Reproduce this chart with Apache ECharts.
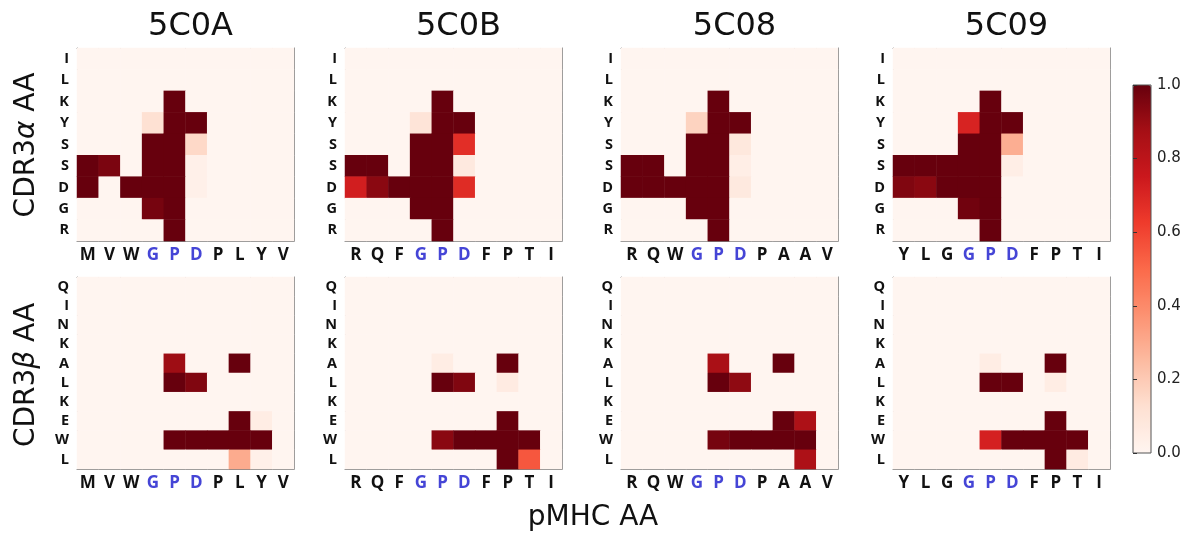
<!DOCTYPE html>
<html><head><meta charset="utf-8">
<script src="https://cdn.jsdelivr.net/npm/echarts@6/dist/echarts.min.js"></script>
<style>html,body{margin:0;padding:0;background:#fff}#c{width:1188px;height:535px}</style>
</head><body><div id="c"></div>
<script>
// ---------------- data ----------------
const pdbIds = ['5C0A', '5C0B', '5C08', '5C09'];
const alphaRows = ['I', 'L', 'K', 'Y', 'S', 'S', 'D', 'G', 'R'];
const betaRows = ['Q', 'I', 'N', 'K', 'A', 'L', 'K', 'E', 'W', 'L'];
const pep5C0A = ['M', 'V', 'W', 'G', 'P', 'D', 'P', 'L', 'Y', 'V'];
const pep5C0B = ['R', 'Q', 'F', 'G', 'P', 'D', 'F', 'P', 'T', 'I'];
const pep5C08 = ['R', 'Q', 'W', 'G', 'P', 'D', 'P', 'A', 'A', 'V'];
const pep5C09 = ['Y', 'L', 'G', 'G', 'P', 'D', 'F', 'P', 'T', 'I'];
const colorbarTicks = [0, 0.2, 0.4, 0.6, 0.8, 1.0];

// CDR3 alpha (rows = alphaRows, cols = peptide)
const alpha5C0A = [
  [0,0,0,0,0,0,0,0,0,0],
  [0,0,0,0,0,0,0,0,0,0],
  [0,0,0,0,1,0,0,0,0,0],
  [0,0,0,0.12,1,1,0,0,0,0],
  [0,0,0,1,1,0.15,0,0,0,0],
  [1,0.96,0,1,1,0.03,0,0,0,0],
  [1,0,1,1,1,0.03,0,0,0,0],
  [0,0,0,0.97,1,0,0,0,0,0],
  [0,0,0,0,1,0,0,0,0,0]
];
const alpha5C0B = [
  [0,0,0,0,0,0,0,0,0,0],
  [0,0,0,0,0,0,0,0,0,0],
  [0,0,0,0,1,0,0,0,0,0],
  [0,0,0,0.1,1,1,0,0,0,0],
  [0,0,0,1,1,0.67,0,0,0,0],
  [1,1,0,1,1,0.07,0,0,0,0],
  [0.73,0.93,1,1,1,0.68,0,0,0,0],
  [0,0,0,1,1,0,0,0,0,0],
  [0,0,0,0,1,0,0,0,0,0]
];
const alpha5C08 = [
  [0,0,0,0,0,0,0,0,0,0],
  [0,0,0,0,0,0,0,0,0,0],
  [0,0,0,0,1,0,0,0,0,0],
  [0,0,0,0.17,1,1,0,0,0,0],
  [0,0,0,1,1,0.08,0,0,0,0],
  [1,1,0,1,1,0.04,0,0,0,0],
  [1,1,1,1,1,0.07,0,0,0,0],
  [0,0,0,1,1,0,0,0,0,0],
  [0,0,0,0,1,0,0,0,0,0]
];
const alpha5C09 = [
  [0,0,0,0,0,0,0,0,0,0],
  [0,0,0,0,0,0,0,0,0,0],
  [0,0,0,0,1,0,0,0,0,0],
  [0,0,0,0.71,1,1,0,0,0,0],
  [0,0,0,1,1,0.29,0,0,0,0],
  [1,1,1,1,1,0.04,0,0,0,0],
  [0.95,0.93,1,1,1,0,0,0,0,0],
  [0,0,0,0.98,1,0,0,0,0,0],
  [0,0,0,0,1,0,0,0,0,0]
];
// CDR3 beta (rows = betaRows)
const beta5C0A = [
  [0,0,0,0,0,0,0,0,0,0],
  [0,0,0,0,0,0,0,0,0,0],
  [0,0,0,0,0,0,0,0,0,0],
  [0,0,0,0,0,0,0,0,0,0],
  [0,0,0,0,0.89,0,0,1,0,0],
  [0,0,0,0,1,0.95,0,0,0,0],
  [0,0,0,0,0,0,0,0,0,0],
  [0,0,0,0,0,0,0,1,0.05,0],
  [0,0,0,0,1,1,1,1,1,0],
  [0,0,0,0,0,0,0,0.3,0.03,0]
];
const beta5C0B = [
  [0,0,0,0,0,0,0,0,0,0],
  [0,0,0,0,0,0,0,0,0,0],
  [0,0,0,0,0,0,0,0,0,0],
  [0,0,0,0,0,0,0,0,0,0],
  [0,0,0,0,0.05,0,0,1,0,0],
  [0,0,0,0,1,0.95,0,0.06,0,0],
  [0,0,0,0,0,0,0,0,0,0],
  [0,0,0,0,0,0,0,1,0,0],
  [0,0,0,0,0.93,1,1,1,1,0],
  [0,0,0,0,0,0,0,1,0.55,0]
];
const beta5C08 = [
  [0,0,0,0,0,0,0,0,0,0],
  [0,0,0,0,0,0,0,0,0,0],
  [0,0,0,0,0,0,0,0,0,0],
  [0,0,0,0,0,0,0,0,0,0],
  [0,0,0,0,0.86,0,0,1,0,0],
  [0,0,0,0,1,0.92,0,0,0,0],
  [0,0,0,0,0,0,0,0,0,0],
  [0,0,0,0,0,0,0,1,0.85,0],
  [0,0,0,0,0.97,1,1,1,1,0],
  [0,0,0,0,0,0,0,0,0.85,0]
];
const beta5C09 = [
  [0,0,0,0,0,0,0,0,0,0],
  [0,0,0,0,0,0,0,0,0,0],
  [0,0,0,0,0,0,0,0,0,0],
  [0,0,0,0,0,0,0,0,0,0],
  [0,0,0,0,0.05,0,0,1,0,0],
  [0,0,0,0,1,1,0,0.05,0,0],
  [0,0,0,0,0,0,0,0,0,0],
  [0,0,0,0,0,0,0,1,0,0],
  [0,0,0,0,0.72,1,1,1,1,0],
  [0,0,0,0,0,0,0,1,0.06,0]
];

// ---------------- layout / style ----------------
const peptides = [pep5C0A, pep5C0B, pep5C08, pep5C09];
const alphaMats = [alpha5C0A, alpha5C0B, alpha5C08, alpha5C09];
const betaMats = [beta5C0A, beta5C0B, beta5C08, beta5C09];
const lefts = [77, 345, 621, 893];
const W = 217;
const rowsLayout = [{top: 48, height: 193, rows: alphaRows, mats: alphaMats},
                    {top: 277, height: 192, rows: betaRows, mats: betaMats}];
const reds = ['#fff5f0','#fee0d2','#fcbba1','#fc9272','#fb6a4a','#ef3b2c','#cb181d','#a50f15','#67000d'];
const LABEL_FONT = '"Open Sans", Lato, sans-serif';
const BIG_FONT = '"DejaVu Sans", sans-serif';
const blue = '#4545d6';
const frame = '#808080';

const grid = [], xAxis = [], yAxis = [], series = [];
rowsLayout.forEach((R, r) => {
  for (let p = 0; p < 4; p++) {
    const gi = grid.length;
    grid.push({left: lefts[p], top: R.top, width: W, height: R.height, show: false});
    const pep = peptides[p];
    xAxis.push({type: 'category', gridIndex: gi, data: pep, position: 'bottom',
      axisLine: {show: true, lineStyle: {color: frame, width: 1}}, axisTick: {show: false},
      splitLine: {show: false},
      axisLabel: {interval: 0, margin: 6, fontFamily: LABEL_FONT, fontWeight: 'bold', fontSize: 17,
        color: (v, i) => (i >= 3 && i <= 5) ? blue : '#111'}});
    xAxis.push({type: 'category', gridIndex: gi, data: pep, position: 'top',
      axisLine: {show: true, lineStyle: {color: frame, width: 1}}, axisTick: {show: false},
      axisLabel: {show: false}, splitLine: {show: false}});
    yAxis.push({type: 'category', gridIndex: gi, data: R.rows, inverse: true, position: 'left',
      axisLine: {show: true, lineStyle: {color: frame, width: 1}}, axisTick: {show: false},
      splitLine: {show: false},
      axisLabel: {interval: 0, margin: 8, fontFamily: LABEL_FONT, fontWeight: 'bold', fontSize: 14.5, color: '#111'}});
    yAxis.push({type: 'category', gridIndex: gi, data: R.rows, inverse: true, position: 'right',
      axisLine: {show: true, lineStyle: {color: frame, width: 1}}, axisTick: {show: false},
      axisLabel: {show: false}, splitLine: {show: false}});
    const mat = R.mats[p];
    const data = [];
    mat.forEach((row, yi) => row.forEach((v, xi) => data.push([xi, yi, v])));
    series.push({type: 'heatmap', xAxisIndex: gi * 2, yAxisIndex: gi * 2, data: data,
      itemStyle: {borderWidth: 0}, emphasis: {disabled: true}, z: 1});
  }
});

// colorbar axis
const cbGrid = grid.length;
grid.push({left: 1133, top: 85, width: 18, height: 368, show: true, borderColor: '#555', borderWidth: 1,
  backgroundColor: 'transparent', z: 10});
xAxis.push({type: 'value', gridIndex: cbGrid, show: false, min: 0, max: 1});
yAxis.push({type: 'value', gridIndex: cbGrid, position: 'right', min: colorbarTicks[0],
  max: colorbarTicks[colorbarTicks.length - 1], interval: 0.2,
  axisLine: {show: false}, axisTick: {show: true, length: 4, lineStyle: {color: '#333'}},
  splitLine: {show: false},
  axisLabel: {margin: 6, fontFamily: BIG_FONT, fontSize: 15, color: '#222',
    formatter: v => v.toFixed(1)}, z: 10});

const titles = pdbIds.map((t, i) => ({text: t, left: lefts[i] + W / 2, top: 6, textAlign: 'center',
  textStyle: {fontFamily: BIG_FONT, fontWeight: 'normal', fontSize: 32, color: '#111'}}));

function axisTitle(x, y, rot, main, greek) {
  const text = greek ? main + '{i|' + greek + '} AA' : main;
  return {type: 'text', x: x, y: y, rotation: rot,
    style: {text: text, align: 'center', verticalAlign: 'middle', fill: '#111',
      font: '28px ' + BIG_FONT,
      rich: {i: {fontStyle: 'italic', fontSize: 28, fontFamily: BIG_FONT, fill: '#111'}}}};
}

const option = {
  animation: false,
  backgroundColor: '#fff',
  title: titles,
  grid, xAxis, yAxis, series,
  visualMap: {type: 'continuous', min: 0, max: 1, calculable: false, orient: 'vertical',
    left: 1133, top: 85, itemWidth: 18, itemHeight: 368, padding: 0, text: null,
    seriesIndex: series.map((s, i) => i), inRange: {color: reds}, hoverLink: false, showLabel: false},
  graphic: [
    axisTitle(27, 145, Math.PI / 2, 'CDR3', 'α'),
    axisTitle(27, 375, Math.PI / 2, 'CDR3', 'β'),
    axisTitle(593, 518, 0, 'pMHC AA', null)
  ]
};
const chart = echarts.init(document.getElementById('c'), null, {renderer: 'canvas'});
chart.setOption(option);
</script></body></html>
